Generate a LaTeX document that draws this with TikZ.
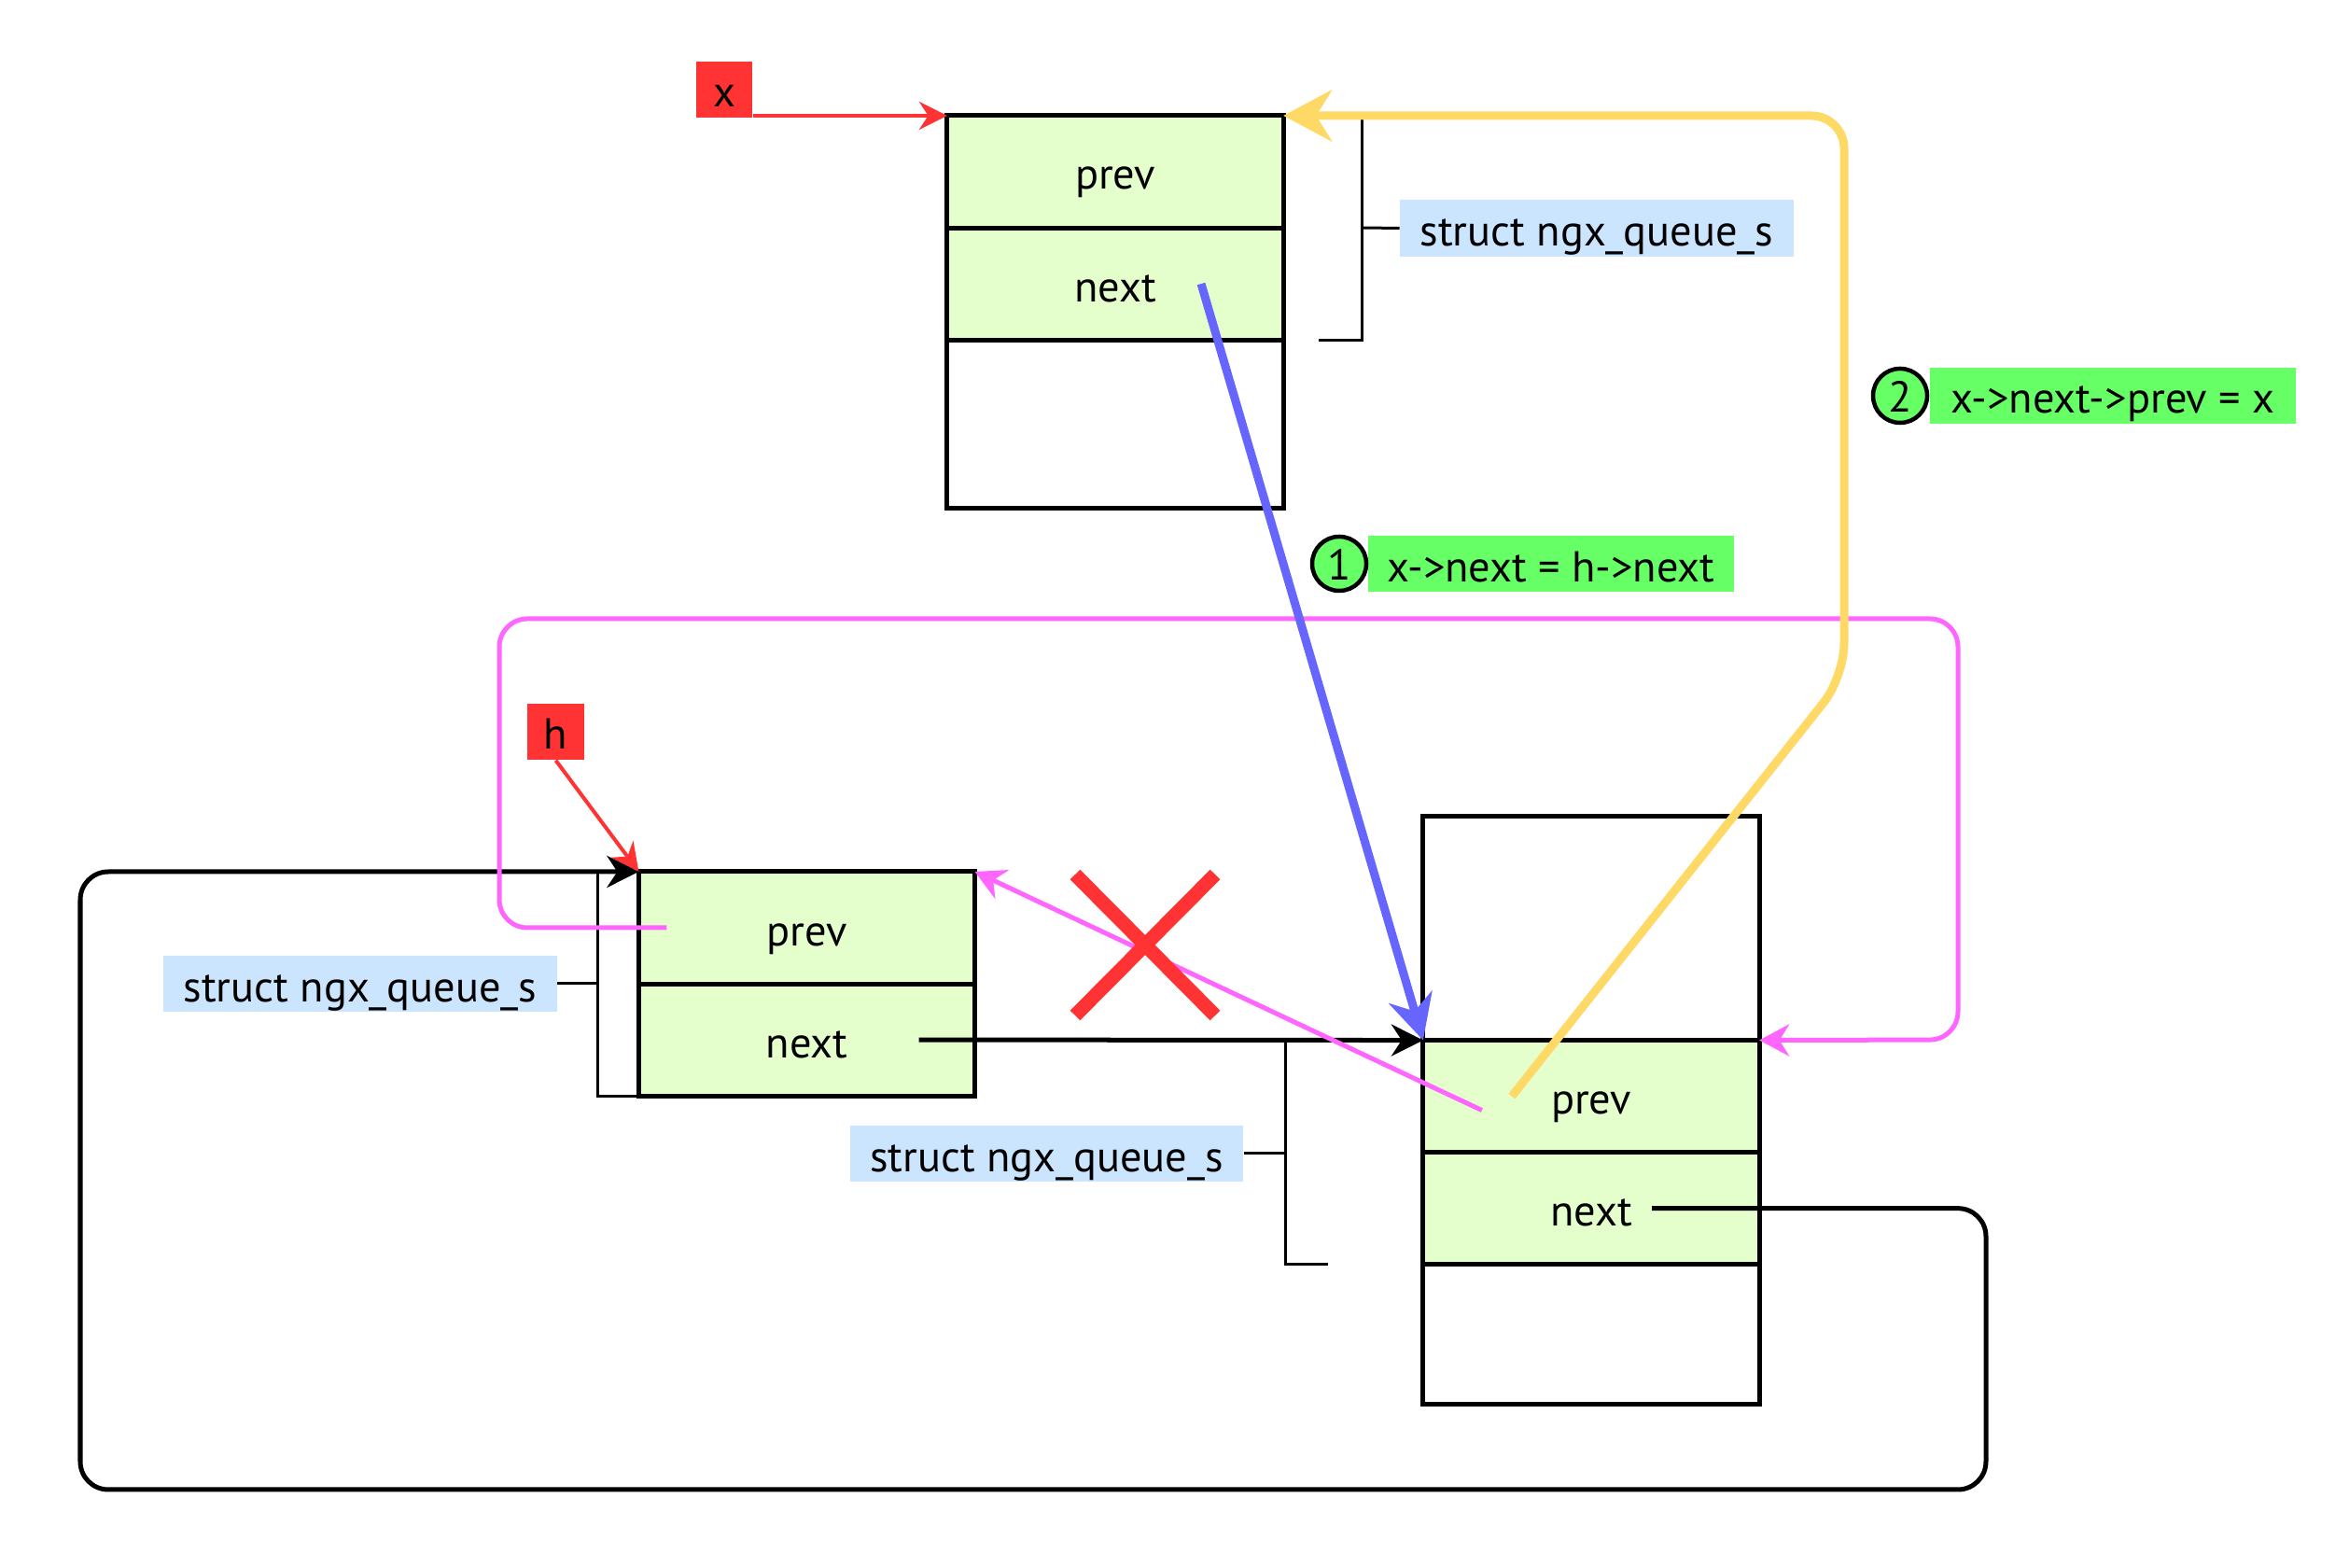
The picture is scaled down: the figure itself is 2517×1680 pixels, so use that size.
\documentclass[tikz,border=0pt]{standalone}
\usepackage{fontspec}
\setmainfont{PT Sans}
\usetikzlibrary{arrows.meta,positioning}
\definecolor{cellgreen}{RGB}{229,255,204}
\definecolor{ptrred}{RGB}{255,51,51}
\definecolor{structblue}{RGB}{204,229,255}
\definecolor{stepgreen}{RGB}{102,255,102}
\definecolor{steponeblue}{RGB}{102,102,255}
\definecolor{steptwoyellow}{RGB}{255,217,102}
\definecolor{backpink}{RGB}{255,102,255}

\begin{document}
\begin{tikzpicture}[x=0.01cm,y=-0.01cm,>=Stealth,
                    font=\fontsize{13.2}{15}\selectfont,
                    every node/.style={text height=0.38cm,text depth=0pt}]
  \tikzstyle{cell}=[draw=black,line width=0.05cm,fill=cellgreen,minimum width=3.6cm,
                    minimum height=1.2cm,inner sep=0pt,outer sep=0pt]
  \tikzstyle{blank}=[cell,fill=white]
  \tikzstyle{ptrlabel}=[fill=ptrred,minimum width=0.6cm,minimum height=0.6cm,inner sep=0pt]
  \tikzstyle{structlabel}=[fill=structblue,minimum width=4.21cm,minimum height=0.6cm,inner sep=0pt]
  \tikzstyle{steplabel}=[fill=stepgreen,minimum width=3.92cm,minimum height=0.6cm,inner sep=0pt]
  \tikzstyle{stepnum}=[circle,draw=black,line width=0.045cm,fill=stepgreen,minimum size=0.58cm,
                       inner sep=0pt,text height=0.36cm]
  \tikzstyle{brace}=[line width=0.03cm]
  \tikzstyle{ptr}=[draw=ptrred,line width=0.04cm,-{Stealth[length=0.3cm,width=0.3cm]}]
  \tikzstyle{link}=[line width=0.05cm,-{Stealth[length=0.34cm,width=0.34cm]}]
  \tikzstyle{back}=[draw=backpink,line width=0.05cm,-{Stealth[length=0.32cm,width=0.34cm]}]
  \tikzstyle{stepone}=[draw=steponeblue,line width=0.09cm,-{Stealth[length=0.48cm,width=0.48cm]}]
  \tikzstyle{steptwo}=[draw=steptwoyellow,line width=0.09cm,-{Stealth[length=0.52cm,width=0.55cm]}]
  \tikzstyle{cross}=[draw=ptrred,line width=0.15cm]

  \useasboundingbox (0,0) rectangle (2517,1680);

  % x
  \node[cell]  (xprev) at (1195,184)      {prev};
  \node[cell]  (xnext) [below=0pt of xprev] {next};
  \node[blank,minimum height=1.8cm] (xrest) [below=0pt of xnext] {};

  % h
  \node[cell]  (hprev) at (864.5,994)     {prev};
  \node[cell]  (hnext) [below=0pt of hprev] {next};

  % h->next
  \node[blank,minimum height=2.4cm] (ntop) at (1705,994.5) {};
  \node[cell]  (nprev) [below=0pt of ntop]  {prev};
  \node[cell]  (nnext) [below=0pt of nprev] {next};
  \node[blank,minimum height=1.5cm] (nrest) [below=0pt of nnext] {};

  \node[ptrlabel]    (xlab) at (776,96)     {x};
  \node[ptrlabel]    (hlab) at (595.5,784)  {h};
  \node[structlabel] (sx)   at (1711,244.5) {struct ngx\_queue\_s};
  \node[structlabel] (sh)   at (386,1054)   {struct ngx\_queue\_s};
  \node[structlabel] (sn)   at (1121.5,1236) {struct ngx\_queue\_s};
  \node[steplabel]   (g1)   at (1662,604)   {x->next = h->next};
  \node[stepnum]     (c1)   at (1435,604)   {1};
  \node[steplabel]   (g2)   at (2264,424)   {x->next->prev = x};
  \node[stepnum]     (c2)   at (2036,424)   {2};

  \draw[brace] ([xshift=0.38cm]xrest.north east) -| (1459,126);
  \draw[brace] (sx.west) -- (1459,244);
  \draw[brace] (hnext.south west) -| (640,934);
  \draw[brace] (sh.east) -- (640,1054);
  \draw[brace] ([xshift=-1.02cm]nnext.south west) -| (1377,1114);
  \draw[brace] (sn.east) -- (1377,1236);

  \draw[ptr] (xlab.east |- xprev.north west) -- (xprev.north west);
  \draw[ptr] (hlab.south) -- (hprev.north west);

  \draw[link] ([xshift=1.2cm]hnext.center) -- (nprev.north west);
  \draw[link,rounded corners=0.3cm] ([xshift=0.65cm]nnext.center) -| (2128,1596)
        -| (86,934) -- (hprev.north west);

  \draw[back,rounded corners=0.3cm] ([xshift=-1.5cm]hprev.center) -| (535,663)
        -| (2098,1114) -- (nprev.north east);
  \draw[back] ([xshift=-1.17cm,yshift=-0.15cm]nprev.center) -- (hprev.north east);
  \draw[cross] (1152,937) -- (1302,1088) (1302,937) -- (1152,1088);

  \draw[stepone] ([xshift=0.92cm]xnext.center) -- (nprev.north west);
  \draw[steptwo,rounded corners=0.35cm] ([xshift=-0.85cm]nprev.center) -- (1976,725)
        -- (1976,124) -- (xprev.north east);
\end{tikzpicture}
\end{document}
